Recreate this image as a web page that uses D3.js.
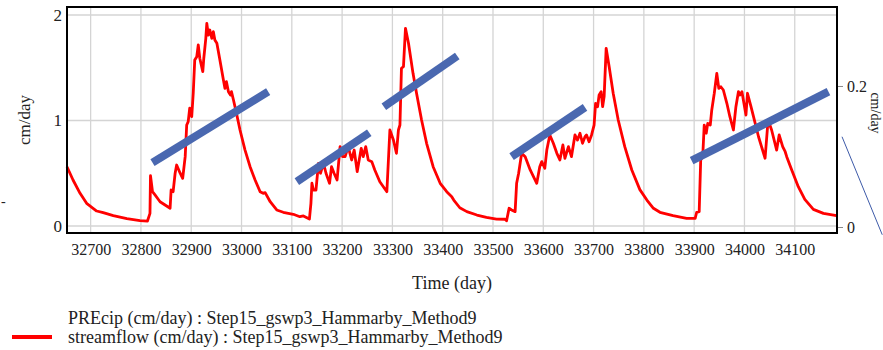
<!DOCTYPE html>
<html>
<head>
<meta charset="utf-8">
<script src="https://cdn.jsdelivr.net/npm/d3@7"></script>
<style>
  html, body { margin: 0; padding: 0; background: #fff; }
  svg { display: block; }
  text { font-family: "Liberation Serif", "Times New Roman", serif; fill: #222; }
</style>
</head>
<body>
<svg id="chart" width="883" height="350"></svg>
<script>
// Simulated streamflow (cm/day) by model day
const flowDays = [32653,32665,32679,32692,32712,32725,32745,32772,32798,32813,32818,32819,32823,32828,32838,32848,32858,32860,32864,32868,32871,32878,32883,32888,32891,32894,32897,32901,32904,32907,32911,32914,32917,32923,32925,32929,32931,32934,32937,32941,32944,32947,32951,32957,32964,32967,32970,32974,32978,32980,32984,32990,32997,33007,33017,33027,33037,33043,33047,33057,33070,33083,33103,33116,33123,33135,33138,33140,33143,33148,33153,33157,33163,33168,33175,33179,33184,33190,33196,33201,33206,33212,33219,33224,33230,33238,33242,33247,33252,33259,33265,33275,33289,33295,33302,33308,33312,33315,33318,33322,33326,33332,33341,33348,33358,33368,33381,33395,33408,33418,33422,33434,33448,33468,33487,33507,33524,33527,33532,33537,33544,33547,33551,33554,33557,33564,33574,33587,33593,33597,33603,33607,33613,33620,33627,33633,33639,33643,33650,33656,33663,33668,33673,33678,33683,33686,33691,33696,33701,33704,33708,33711,33715,33718,33721,33725,33731,33739,33749,33762,33776,33792,33806,33819,33832,33858,33885,33902,33905,33910,33913,33917,33920,33924,33927,33932,33935,33940,33945,33949,33953,33958,33965,33971,33978,33983,33988,33991,33995,34003,34006,34013,34018,34028,34041,34047,34054,34064,34069,34076,34081,34084,34094,34107,34120,34137,34157,34183];
const flowValues = [0.562,0.436,0.310,0.215,0.142,0.126,0.098,0.069,0.050,0.047,0.120,0.477,0.325,0.294,0.230,0.199,0.168,0.341,0.325,0.500,0.578,0.500,0.452,0.657,0.957,0.989,1.116,1.036,1.258,1.573,1.605,1.716,1.590,1.463,1.590,1.779,1.921,1.810,1.858,1.779,1.842,1.763,1.732,1.573,1.384,1.305,1.368,1.273,1.242,1.273,1.194,1.068,0.910,0.720,0.562,0.436,0.325,0.310,0.316,0.230,0.152,0.130,0.111,0.088,0.095,0.066,0.215,0.405,0.341,0.341,0.594,0.500,0.594,0.500,0.405,0.562,0.500,0.436,0.752,0.657,0.657,0.752,0.626,0.720,0.515,0.736,0.657,0.752,0.626,0.610,0.531,0.420,0.325,0.910,0.815,0.689,0.910,0.957,1.495,1.510,1.874,1.732,1.447,1.258,1.005,0.784,0.562,0.405,0.325,0.278,0.246,0.173,0.136,0.104,0.082,0.066,0.064,0.050,0.168,0.152,0.136,0.405,0.500,0.594,0.689,0.657,0.531,0.405,0.562,0.610,0.547,0.720,0.863,0.784,0.689,0.626,0.768,0.642,0.752,0.657,0.863,0.815,0.879,0.784,0.846,0.863,0.799,0.863,0.957,1.163,1.131,1.242,1.273,1.131,1.226,1.684,1.510,1.258,1.005,0.752,0.531,0.345,0.246,0.168,0.130,0.098,0.073,0.073,0.130,0.136,0.626,0.657,0.957,0.879,0.973,0.957,1.100,1.258,1.447,1.305,1.320,1.289,1.163,1.036,0.910,1.131,1.273,1.242,1.273,1.052,1.258,1.131,1.036,0.846,0.642,1.005,0.910,0.720,0.863,0.752,0.704,0.657,0.531,0.373,0.253,0.158,0.120,0.098];

// Rising-limb trend strokes: start/end day and cm/day level
const trendStartDay = [32823, 33110, 33283, 33537, 33895];
const trendStartVal = [0.600, 0.420, 1.131, 0.657, 0.619];
const trendEndDay   = [33053, 33254, 33429, 33683, 34167];
const trendEndVal   = [1.273, 0.884, 1.611, 1.125, 1.273];

// Axis ticks
const dayTicks = [32700,32800,32900,33000,33100,33200,33300,33400,33500,33600,33700,33800,33900,34000,34100];
const leftTicks = [0, 1, 2];
const rightTicks = [0, 0.2];

// Pointer stroke running off to the right (day, right-axis units)
const pointerDays = [34194, 34274];
const pointerVals = [0.128, -0.011];

const legendLabels = [
  "PREcip (cm/day) : Step15_gswp3_Hammarby_Method9",
  "streamflow (cm/day) : Step15_gswp3_Hammarby_Method9"
];

const svg = d3.select("#chart");
const plot = { left: 67, right: 837, top: 7, bottom: 233 };

const x = d3.scaleLinear().domain([32653, 34184]).range([plot.left, plot.right]);
const y = d3.scaleLinear().domain([-0.0664, 2.0758]).range([plot.bottom, plot.top]);
const y2 = d3.scaleLinear().domain([-0.0085, 0.312]).range([plot.bottom, plot.top]);

// Grid
const grid = svg.append("g").attr("stroke", "#d4d4d4").attr("stroke-width", 1.3);
grid.selectAll("line.v").data(dayTicks).join("line")
  .attr("x1", d => x(d)).attr("x2", d => x(d))
  .attr("y1", plot.top).attr("y2", plot.bottom);
grid.selectAll("line.h").data(leftTicks).join("line")
  .attr("x1", plot.left).attr("x2", plot.right)
  .attr("y1", d => y(d)).attr("y2", d => y(d));

// Axes
const xAxis = svg.append("g")
  .attr("transform", `translate(0,${plot.bottom})`)
  .call(d3.axisBottom(x).tickValues(dayTicks).tickFormat(d3.format("d")).tickSize(0).tickPadding(11));
xAxis.select(".domain").remove();
xAxis.selectAll("text").attr("font-size", 16).attr("font-family", "Liberation Serif").attr("fill", "#222");

const yAxis = svg.append("g")
  .attr("transform", `translate(${plot.left},0)`)
  .call(d3.axisLeft(y).tickValues(leftTicks).tickFormat(d3.format("d")).tickSize(0).tickPadding(5));
yAxis.select(".domain").remove();
yAxis.selectAll("text").attr("font-size", 17).attr("font-family", "Liberation Serif").attr("fill", "#222");

const y2Axis = svg.append("g")
  .attr("transform", `translate(${plot.right},0)`)
  .call(d3.axisRight(y2).tickValues(rightTicks).tickFormat(d => d === 0 ? "0" : d3.format(".1f")(d)).tickSize(6).tickPadding(4));
y2Axis.select(".domain").remove();
y2Axis.selectAll("line").attr("stroke", "#888");
y2Axis.selectAll("text").attr("font-size", 16).attr("font-family", "Liberation Serif").attr("fill", "#333");

// Streamflow series
const flow = flowDays.map((d, i) => [d, flowValues[i]]);
svg.append("path")
  .datum(flow)
  .attr("fill", "none")
  .attr("stroke", "#ff0000")
  .attr("stroke-width", 2.8)
  .attr("stroke-linejoin", "round")
  .attr("d", d3.line().x(d => x(d[0])).y(d => y(d[1])));

// Trend strokes
svg.append("g").selectAll("line").data(trendStartDay).join("line")
  .attr("x1", (d, i) => x(trendStartDay[i])).attr("y1", (d, i) => y(trendStartVal[i]))
  .attr("x2", (d, i) => x(trendEndDay[i])).attr("y2", (d, i) => y(trendEndVal[i]))
  .attr("stroke", "#4a68b0").attr("stroke-width", 8).attr("stroke-linecap", "butt");

// Frame
svg.append("rect")
  .attr("x", plot.left).attr("y", plot.top)
  .attr("width", plot.right - plot.left).attr("height", plot.bottom - plot.top)
  .attr("fill", "none").attr("stroke", "#000").attr("stroke-width", 2);

// Pointer stroke
svg.append("line")
  .attr("x1", x(pointerDays[0])).attr("y1", y2(pointerVals[0]))
  .attr("x2", x(pointerDays[1])).attr("y2", y2(pointerVals[1]))
  .attr("stroke", "#3d5aa8").attr("stroke-width", 1);

// Axis titles
svg.append("text")
  .attr("transform", `translate(30,${(plot.top + plot.bottom) / 2}) rotate(-90)`)
  .attr("text-anchor", "middle").attr("font-size", 17).text("cm/day");
svg.append("text")
  .attr("transform", `translate(871,113) rotate(90)`)
  .attr("text-anchor", "middle").attr("font-size", 14).text("cm/day");
svg.append("text")
  .attr("x", (plot.left + plot.right) / 2).attr("y", 289)
  .attr("text-anchor", "middle").attr("font-size", 18).text("Time (day)");

// Stray tick fragment at the far left
svg.append("text").attr("x", 1).attr("y", 206).attr("font-size", 14).attr("fill", "#777").text("-");

// Legend
const legend = svg.append("g");
legend.selectAll("text").data(legendLabels).join("text")
  .attr("x", 68).attr("y", (d, i) => 324 + i * 19)
  .attr("font-size", 18).text(d => d);
legend.append("line")
  .attr("x1", 12).attr("x2", 52).attr("y1", 337).attr("y2", 337)
  .attr("stroke", "#ff0000").attr("stroke-width", 4);
</script>
</body>
</html>
